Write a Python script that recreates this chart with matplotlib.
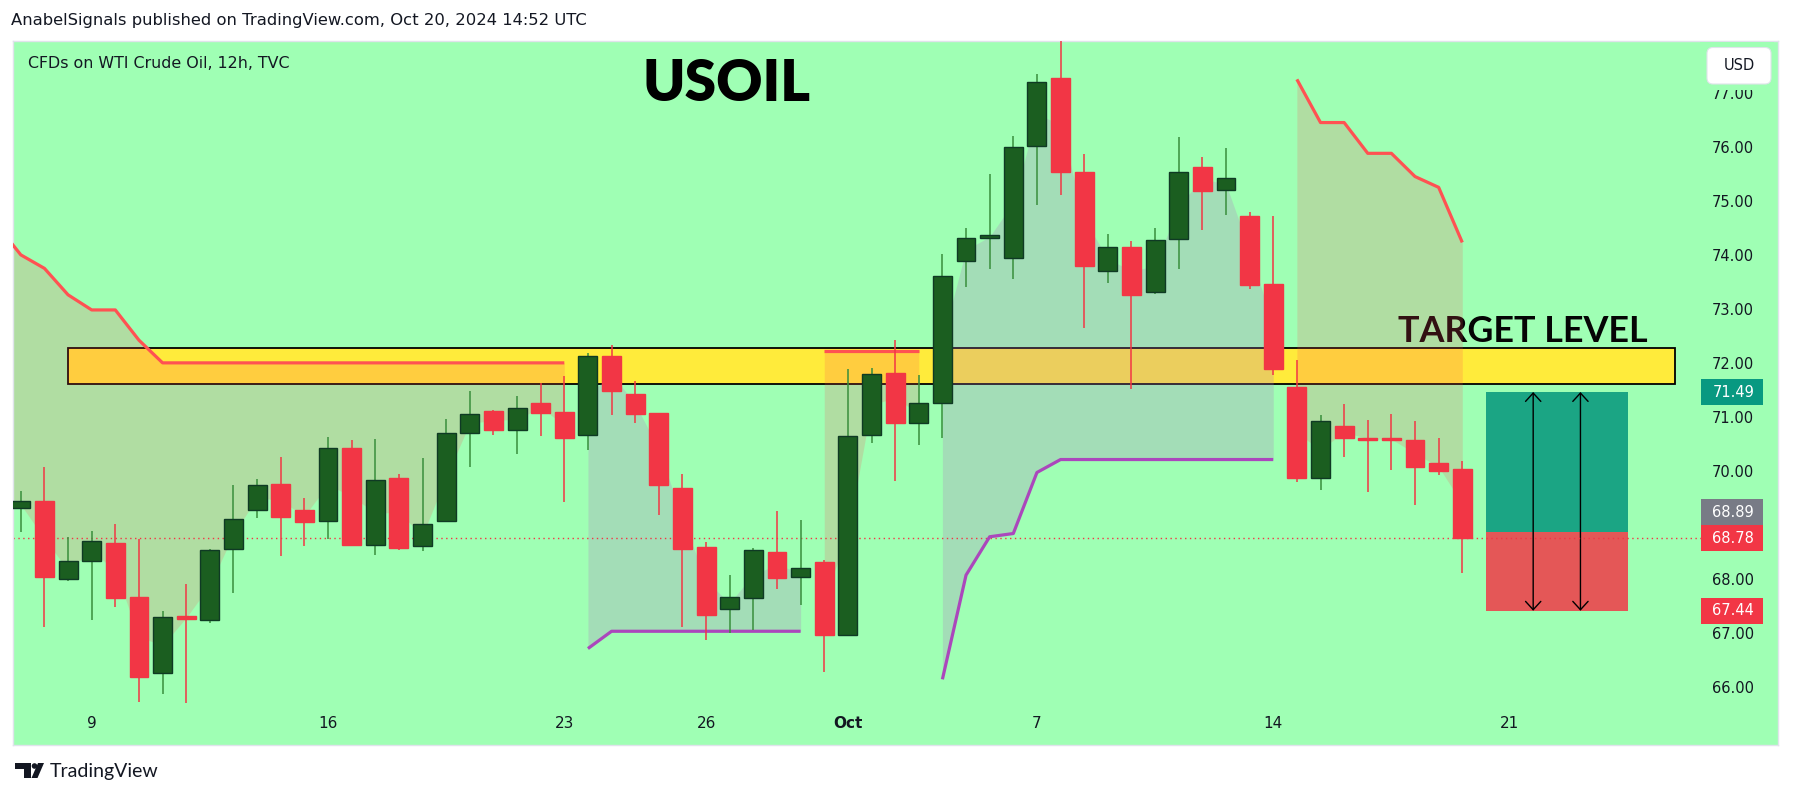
import matplotlib
matplotlib.use('Agg')
import matplotlib.pyplot as plt
from matplotlib.patches import Rectangle, FancyBboxPatch, Polygon, Circle
from matplotlib.transforms import IdentityTransform, blended_transform_factory
import numpy as np

# ---------------- data ----------------
bar_index = list(range(-1, 62))
opens = [69.55, 69.34, 69.47, 68.03, 68.36, 68.69, 67.69, 66.28, 67.34, 67.26, 68.58,
         69.31, 69.78, 69.30, 69.10, 70.45, 68.65, 69.90, 68.63, 69.10, 70.74,
         71.14, 70.78, 71.29, 71.12, 70.70, 72.16, 71.45, 71.10, 69.71, 68.62,
         67.47, 67.67, 68.53, 68.06, 68.34, 67.00, 70.69, 71.84, 70.91, 71.28,
         73.91, 74.34, 73.98, 76.04, 77.31, 75.56, 73.74, 74.18, 73.34, 74.32,
         75.66, 75.23, 74.75, 73.49, 71.58, 69.89, 70.87, 70.64, 70.62, 70.60,
         70.18, 70.06]
highs = [69.80, 69.66, 70.10, 68.81, 68.92, 69.05, 68.76, 67.44, 67.94, 68.58, 69.77,
         69.88, 70.29, 69.53, 70.66, 70.60, 70.62, 69.97, 70.27, 70.99, 71.51,
         71.16, 71.42, 71.65, 71.79, 72.21, 72.36, 71.69, 71.10, 69.97, 68.71,
         68.10, 68.60, 69.29, 69.12, 68.38, 71.92, 71.94, 72.45, 71.81, 74.05,
         74.53, 75.53, 76.23, 77.37, 78.10, 75.90, 74.42, 74.29, 74.53, 76.21,
         75.84, 76.01, 74.82, 74.75, 72.08, 71.06, 71.27, 70.97, 71.08, 70.95,
         70.64, 70.21]
lows = [69.30, 68.89, 67.13, 67.99, 67.27, 67.51, 65.75, 65.89, 65.73, 67.21, 67.77,
        69.16, 68.46, 68.63, 68.76, 68.66, 68.48, 68.56, 68.55, 69.10, 70.11,
        70.70, 70.35, 70.68, 69.46, 70.42, 71.06, 70.92, 69.21, 67.13, 66.90,
        67.03, 67.08, 67.85, 67.55, 66.31, 67.00, 70.55, 69.85, 70.50, 70.63,
        73.44, 73.76, 73.59, 74.96, 75.13, 72.68, 73.50, 71.54, 73.30, 73.77,
        74.49, 74.76, 73.39, 71.81, 69.83, 69.68, 70.29, 69.63, 70.05, 69.40,
        69.96, 68.13]
closes = [69.45, 69.47, 68.07, 68.36, 68.74, 67.68, 66.22, 67.32, 67.28, 68.56, 69.13,
          69.76, 69.18, 69.09, 70.45, 68.66, 69.86, 68.61, 69.04, 70.73, 71.08,
          70.79, 71.19, 71.11, 70.64, 72.15, 71.50, 71.09, 69.76, 68.59, 67.37,
          67.69, 68.56, 68.05, 68.23, 67.00, 70.67, 71.82, 70.92, 71.28, 73.63,
          74.34, 74.39, 76.02, 77.24, 75.57, 73.83, 74.17, 73.29, 74.30, 75.56,
          75.22, 75.45, 73.48, 71.92, 69.89, 70.95, 70.63, 70.61, 70.61, 70.11,
          70.03, 68.78]

# Supertrend value and direction per bar (d = down trend / red, u = up trend / purple)
st_value = [74.58, 74.03, 73.78, 73.29, 73.01, 73.01, 72.45] + [72.03] * 18 \
         + [66.74] + [67.06] * 9 \
         + [72.25] * 5 \
         + [66.17, 68.10, 68.81, 68.87, 70.00] + [70.24] * 10 \
         + [77.28, 76.48, 76.48, 75.91, 75.91, 75.48, 75.28, 74.26]
st_dir = ['d'] * 25 + ['u'] * 10 + ['d'] * 5 + ['u'] * 15 + ['d'] * 8

# date labels (bar index -> label)
date_ticks = [3, 13, 23, 29, 35, 43, 53, 63]
date_labels = ['9', '16', '23', '26', 'Oct', '7', '14', '21']

price_ticks = [66, 67, 68, 69, 70, 71, 72, 73, 74, 75, 76, 77]

zone_top, zone_bottom = 72.30, 71.63
zone_start, zone_end = 2, 70

last_price = 68.78
entry_price, target_price, stop_price = 68.89, 71.49, 67.44
pos_start, pos_end = 62, 68
arrow_bars = [64, 66]

# ---------------- style ----------------
W, H = 1793, 798
BG = '#9fffb4'
UP_BODY, UP_EDGE, UP_WICK = '#1b5e20', '#0f3a24', '#388e3c'
DN = '#f23645'
ST_DN_LINE, ST_UP_LINE = '#ff5252', '#ab47bc'
DN_FILL = (1.0, 74 / 255, 86 / 255, 0.186)
UP_FILL = (178 / 255, 121 / 255, 195 / 255, 0.25)
TXT = '#131722'

fig = plt.figure(figsize=(W / 100, H / 100), dpi=100)
fig.patch.set_facecolor('white')

def fx(px):
    return px / W

def fy(py):
    return 1 - py / H

ax = fig.add_axes([fx(13), fy(745), fx(1778) - fx(13), fy(41) - fy(745)])
ax.set_facecolor(BG)
ax.set_xlim(-0.33, 74.36)
ax.set_ylim(64.954, 77.99)
ax.set_xticks([])
ax.set_yticks([])
for s in ax.spines.values():
    s.set_color('#e0e3eb')
    s.set_linewidth(1)

bx = blended_transform_factory(ax.transData, ax.transAxes)
by = blended_transform_factory(ax.transAxes, ax.transData)

# target zone
ax.add_patch(Rectangle((zone_start, zone_bottom), zone_end - zone_start, zone_top - zone_bottom,
                       facecolor='#ffeb3b', edgecolor='black', lw=1.3, zorder=1))
ax.text(58.3, zone_top + 0.12, 'TARGET LEVEL', ha='left', va='baseline',
        fontsize=25.8, fontweight='bold', family=['Lato', 'DejaVu Sans'], color='#050505', zorder=1.5)

# supertrend segments and fills
xs = np.array(bar_index, dtype=float)
mids = (np.array(opens) + np.array(closes)) / 2
vals = np.array(st_value)
i = 0
n = len(st_dir)
while i < n:
    j = i
    while j + 1 < n and st_dir[j + 1] == st_dir[i]:
        j += 1
    seg = slice(i, j + 1)
    down = st_dir[i] == 'd'
    ax.fill_between(xs[seg], vals[seg], mids[seg], color=DN_FILL if down else UP_FILL,
                    lw=0, zorder=2)
    ax.plot(xs[seg], vals[seg], color=ST_DN_LINE if down else ST_UP_LINE, lw=2.3,
            solid_capstyle='butt', zorder=3)
    i = j + 1

# last price dotted line
ax.axhline(last_price, xmin=0, xmax=(1701 - 13) / 1765, color=DN, lw=1, ls=(0, (1, 2.5)), zorder=2.5)

# candles
body_w = 0.8
for k, o, h, l, c in zip(bar_index, opens, highs, lows, closes):
    up = c >= o
    ax.vlines(k, l, h, color=UP_WICK if up else DN, lw=1.1, zorder=3.8)
    bottom = min(o, c)
    height = max(abs(c - o), 0.035)
    ax.add_patch(Rectangle((k - body_w / 2, bottom), body_w, height,
                           facecolor=UP_BODY if up else DN,
                           edgecolor=UP_EDGE if up else DN, lw=1.0, zorder=4))

# long position tool
ax.add_patch(Rectangle((pos_start, entry_price), pos_end - pos_start, target_price - entry_price,
                       facecolor='#1ba584', edgecolor='none', zorder=2.2))
ax.add_patch(Rectangle((pos_start, stop_price), pos_end - pos_start, entry_price - stop_price,
                       facecolor='#e45757', edgecolor='none', zorder=2.2))
for xa in arrow_bars:
    ax.annotate('', xy=(xa, target_price), xytext=(xa, stop_price),
                arrowprops=dict(arrowstyle='<->,head_length=0.6,head_width=0.55',
                                color='black', lw=1.0, shrinkA=0, shrinkB=0), zorder=2.4)

# date labels
for k, lab in zip(date_ticks, date_labels):
    ax.text(k, (745 - 724) / 704, lab, transform=bx, ha='center', va='center',
            fontsize=11, color=TXT, fontweight='bold' if lab == 'Oct' else 'normal')

# price labels
for p in price_ticks:
    ax.text(0.9865, p, f'{p:.2f}', transform=by, ha='right', va='center',
            fontsize=10.5, color=TXT, zorder=5)

# price tags
tag_h = 0.48
tag_x0 = (1701 - 13) / 1765
tag_w = (1763 - 1701) / 1765
def tag(center, text, color):
    ax.add_patch(Rectangle((tag_x0, center - tag_h / 2), tag_w, tag_h, transform=by,
                           facecolor=color, edgecolor='none', zorder=6, clip_on=False))
    ax.text(0.9865, center, text, transform=by, ha='right', va='center',
            fontsize=10.5, color='white', zorder=7)

tag(target_price, f'{target_price:.2f}', '#089981')
tag(last_price, f'{last_price:.2f}', DN)
tag(last_price + tag_h, f'{entry_price:.2f}', '#787b86')
tag(stop_price, f'{stop_price:.2f}', DN)

# mask above price scale + USD box
ident = IdentityTransform()
fig.patches.append(Rectangle((1700, H - 90), 74, 48, transform=ident, facecolor=BG,
                             edgecolor='none', zorder=8))
fig.patches.append(FancyBboxPatch((1707, H - 84), 64, 36.5, transform=ident,
                                  boxstyle='round,pad=0,rounding_size=6',
                                  facecolor='white', edgecolor='#e0e3eb', lw=0.8, zorder=9))
fig.text(fx(1739), fy(66), 'USD', ha='center', va='center', fontsize=10.5, color=TXT, zorder=10)

# titles
fig.text(fx(11), fy(21), 'AnabelSignals published on TradingView.com, Oct 20, 2024 14:52 UTC',
         ha='left', va='center', fontsize=11.8, color=TXT)
fig.text(fx(28), fy(63), 'CFDs on WTI Crude Oil, 12h, TVC', ha='left', va='center',
         fontsize=11.4, color=TXT)
fig.text(fx(727), fy(84), 'USOIL', ha='center', va='center', fontsize=41,
         fontweight='heavy', family=['Lato', 'DejaVu Sans'], color='black')

# footer logo
logo_col = '#131722'
fig.patches.append(Polygon([(15, H - 763), (31, H - 763), (31, H - 778), (23.5, H - 778),
                            (23.5, H - 769), (15, H - 769)], closed=True, transform=ident,
                           facecolor=logo_col, edgecolor='none'))
fig.patches.append(Circle((34.5, H - 766), 2.8, transform=ident, facecolor=logo_col, edgecolor='none'))
fig.patches.append(Polygon([(38, H - 763), (44, H - 763), (37.5, H - 778), (31.5, H - 778)],
                           closed=True, transform=ident, facecolor=logo_col, edgecolor='none'))
fig.text(fx(50), fy(771), 'TradingView', ha='left', va='center', fontsize=14,
         family=['Lato', 'DejaVu Sans'], color=logo_col)

fig.savefig('out.png', dpi=100, facecolor='white')
